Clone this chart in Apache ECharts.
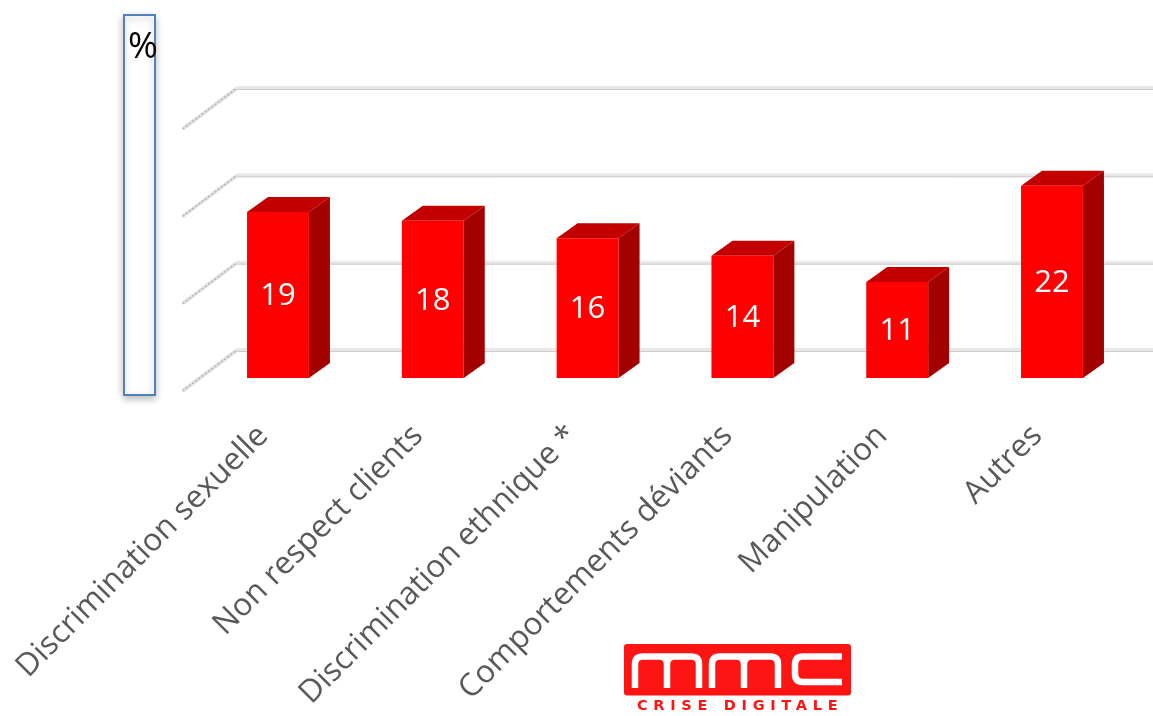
<!DOCTYPE html>
<html>
<head>
<meta charset="utf-8">
<style>
  html, body { margin: 0; padding: 0; background: #fff; }
  #chart { width: 1153px; height: 716px; }
</style>
<script src="https://cdn.jsdelivr.net/npm/echarts@6/dist/echarts.min.js"></script>
</head>
<body>
<div id="chart"></div>
<script>
const categories = ['Discrimination sexuelle', 'Non respect clients', 'Discrimination ethnique *', 'Comportements déviants', 'Manipulation', 'Autres'];
const values = [19, 18, 16, 14, 11, 22];
const wallTicks = [0, 10, 20, 30];
const unitLabel = '%';
const logoTagline = 'CRISE DIGITALE';

// Canvas text has no letter-spacing option in the library, so the tagline gets it here.
const taglineFont = 'bold 14.5px "DejaVu Sans"';
const nativeFillText = CanvasRenderingContext2D.prototype.fillText;
CanvasRenderingContext2D.prototype.fillText = function (text, x, y, maxWidth) {
  this.letterSpacing = text === logoTagline ? '5.7px' : '0px';
  return maxWidth === undefined ? nativeFillText.call(this, text, x, y) : nativeFillText.call(this, text, x, y, maxWidth);
};

const chart = echarts.init(document.getElementById('chart'));

// Perspective offsets of the pseudo-3D scene
const BAR_DEPTH = [21, -15];
const WALL_BACK = [36.5, -28];
const WALL_FRONT = [-18, 13];

function renderWall(params, api) {
  const base = api.coord([0, api.value(1)]);
  const cs = params.coordSys;
  const y = base[1] + WALL_BACK[1];
  const bx = cs.x + WALL_BACK[0];
  const fx = cs.x + WALL_FRONT[0];
  const fy = base[1] + WALL_FRONT[1];
  return {
    type: 'group',
    children: [
      { type: 'line', shape: { x1: fx, y1: fy, x2: bx, y2: y },
        style: { stroke: '#e0e0e0', lineWidth: 3.5 } },
      { type: 'line', shape: { x1: fx, y1: fy, x2: bx, y2: y },
        style: { stroke: '#b5b5b5', lineWidth: 1.4, lineDash: [2, 2] } },
      { type: 'line', shape: { x1: bx, y1: y, x2: api.getWidth(), y2: y },
        style: { stroke: '#e8e8e8', lineWidth: 4 } },
      { type: 'line', shape: { x1: bx, y1: y + 1.5, x2: api.getWidth(), y2: y + 1.5 },
        style: { stroke: '#cbcbcb', lineWidth: 1 } }
    ]
  };
}

function renderBar(params, api) {
  const idx = api.value(0);
  const val = api.value(1);
  const top = api.coord([idx, val]);
  const bottom = api.coord([idx, 0]);
  const half = api.size([1, 0])[0] * 0.2;
  const l = top[0] - half, r = top[0] + half;
  const dx = BAR_DEPTH[0], dy = BAR_DEPTH[1];
  return {
    type: 'group',
    children: [
      { type: 'polygon', shape: { points: [[r, top[1]], [r + dx, top[1] + dy], [r + dx, bottom[1] + dy], [r, bottom[1]]] },
        style: { fill: '#a30000' } },
      { type: 'polygon', shape: { points: [[l, top[1]], [l + dx, top[1] + dy], [r + dx, top[1] + dy], [r, top[1]]] },
        style: { fill: '#c20000' } },
      { type: 'rect', shape: { x: l, y: top[1], width: r - l, height: bottom[1] - top[1] },
        style: { fill: '#ff0000' } },
      { type: 'text', x: top[0], y: (top[1] + bottom[1]) / 2 + 1.5,
        style: { text: String(val), fill: '#ffffff', font: '31px "Open Sans"', align: 'center', verticalAlign: 'middle' } }
    ]
  };
}

// Logo letterforms, stroked in white on the red plate
const mmcPath = [
  'M635 688V664Q635 656.5 643 656.5H659Q667 656.5 667 664V688',
  'M667 664Q667 656.5 675 656.5H691Q699 656.5 699 664V688',
  'M643 656.5H691',
  'M712 688V664Q712 656.5 720 656.5H736Q744 656.5 744 664V688',
  'M744 664Q744 656.5 752 656.5H770Q778 656.5 778 664V688',
  'M720 656.5H770',
  'M842 656.5H803Q795 656.5 795 664.5V674Q795 682 803 682H842'
].join('');
echarts.graphic.registerShape('mmcLetters', echarts.graphic.extendPath(mmcPath));

chart.setOption({
  animation: false,
  backgroundColor: '#ffffff',
  grid: { left: 200.6, right: 23.6, top: 116, bottom: 338 },
  xAxis: {
    type: 'category',
    data: categories,
    axisLine: { show: false },
    axisTick: { show: false },
    axisLabel: {
      interval: 0,
      rotate: 45,
      margin: 38,
      padding: [0, 21, 0, 0],
      color: '#595959',
      fontFamily: 'Open Sans',
      fontSize: 31.5
    }
  },
  yAxis: { type: 'value', min: 0, max: 30, interval: 10, show: false },
  series: [
    { type: 'custom', name: 'wall', renderItem: renderWall, clip: false, silent: true, z: 1,
      encode: { x: 0, y: 1 }, data: wallTicks.map(v => [0, v]) },
    { type: 'custom', name: 'Part', renderItem: renderBar, clip: false, z: 2,
      encode: { x: 0, y: 1 }, data: values.map((v, i) => [i, v]) }
  ],
  graphic: [
    { type: 'rect', shape: { x: 124, y: 15, width: 31, height: 380 },
      style: { fill: '#ffffff', stroke: '#4f81bd', lineWidth: 2, shadowBlur: 7, shadowColor: 'rgba(0,0,0,0.25)', shadowOffsetY: 3 } },
    { type: 'text', x: 143, y: 48,
      style: { text: unitLabel, fill: '#000000', font: '36px "Open Sans"', align: 'center', verticalAlign: 'middle' } },
    { type: 'rect', shape: { x: 624, y: 644, width: 227, height: 51.5, r: 3 }, style: { fill: '#ff1414' } },
    { type: 'mmcLetters', style: { fill: 'none', stroke: '#ffffff', lineWidth: 6.5 } },
    { type: 'text', x: 637, y: 706,
      style: { text: logoTagline, fill: '#ff1414', font: taglineFont, align: 'left', verticalAlign: 'middle' } }
  ]
});
</script>
</body>
</html>
